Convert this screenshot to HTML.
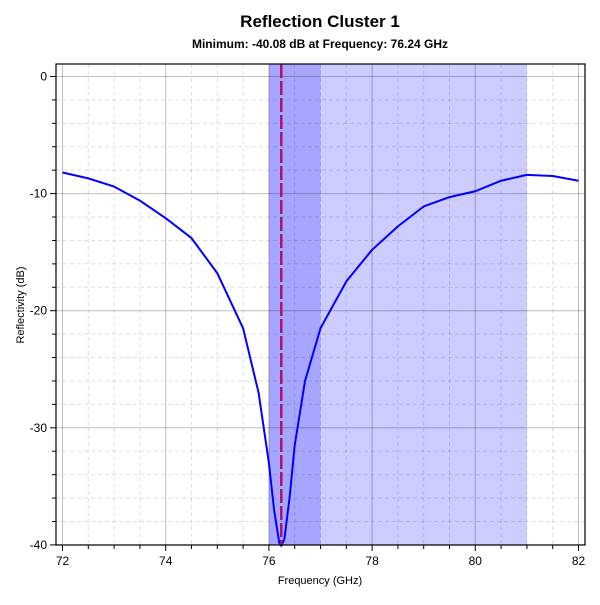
<!DOCTYPE html>
<html><head><meta charset="utf-8"><style>
body{margin:0;background:#fff;font-family:"Liberation Sans",sans-serif}
</style></head><body>
<svg id="chart" width="600" height="600" xmlns="http://www.w3.org/2000/svg">
<text x="320" y="27" text-anchor="middle" font-size="17" font-weight="bold">Reflection Cluster 1</text>
<text x="320" y="48" text-anchor="middle" font-size="12" font-weight="bold">Minimum: -40.08 dB at Frequency: 76.24 GHz</text>
<g id="bands"></g><g id="grid"></g><g id="series"></g><g id="axes"></g>
<text x="320" y="584" text-anchor="middle" font-size="11">Frequency (GHz)</text>
<text transform="translate(24,305) rotate(-90)" text-anchor="middle" font-size="11">Reflectivity (dB)</text>
</svg>
<script>
const freqs=[72,72.5,73,73.5,74,74.5,75,75.5,75.8,76,76.1,76.2,76.24,76.3,76.4,76.5,76.7,77,77.5,78,78.5,79,79.5,80,80.5,81,81.5,82];
const refl=[-8.2,-8.7,-9.4,-10.6,-12.1,-13.8,-16.8,-21.5,-27,-33,-37,-39.8,-40.08,-39.5,-36,-31.5,-26,-21.5,-17.5,-14.8,-12.8,-11.1,-10.3,-9.8,-8.9,-8.4,-8.5,-8.9];
const xTicks=[72,74,76,78,80,82];
const yTicks=[0,-10,-20,-30,-40];
const bandRanges=[[76,77],[77,81]];
const minFreq=76.24;
const NS="http://www.w3.org/2000/svg";
const L=56,R=585,T=64,B=545;
const xs=f=>62.5+(f-72)*51.6;
const ys=v=>76.5+(0-v)*11.71;
function mk(tag,at,par){const e=document.createElementNS(NS,tag);for(const k in at)e.setAttribute(k,at[k]);document.getElementById(par).appendChild(e);return e;}
const bandColors=["#a6a6ff","#ccccff"];
bandRanges.forEach((b,i)=>{const e=mk("rect",{x:xs(b[0]),y:T,width:xs(b[1])-xs(b[0]),height:B-T,fill:bandColors[i]},"bands");

});
for(let f=71.5;f<=82.6;f+=0.5){const x=xs(f);if(x<L||x>R)continue;const major=Math.abs(f-Math.round(f/2)*2)<1e-6;
mk("line",{x1:x,x2:x,y1:T,y2:B,stroke:major?"rgba(0,0,0,0.25)":"rgba(0,0,0,0.13)","stroke-dasharray":major?"":"4,3"},"grid");
mk("line",{x1:x,x2:x,y1:B,y2:B+(major?6:4),stroke:"#000"},"axes");}
for(let v=0;v>=-40;v-=2){const y=ys(v);const major=v%10===0;
mk("line",{x1:L,x2:R,y1:y,y2:y,stroke:major?"rgba(0,0,0,0.25)":"rgba(0,0,0,0.13)","stroke-dasharray":major?"":"4,3"},"grid");
mk("line",{x1:L-(major?6:4),x2:L,y1:y,y2:y,stroke:"#000"},"axes");}
const p=mk("polyline",{points:freqs.map((f,i)=>xs(f)+","+ys(refl[i])).join(" "),fill:"none",stroke:"#0000ff","stroke-width":2,"stroke-linejoin":"round"},"series");


const m=mk("line",{x1:xs(minFreq),x2:xs(minFreq),y1:T,y2:B,stroke:"#b0106e","stroke-width":2.5,"stroke-dasharray":"14,3"},"series");


const fr=mk("rect",{x:L,y:T,width:R-L,height:B-T,fill:"none",stroke:"#000","stroke-width":1.2},"axes");


xTicks.forEach(f=>{const t=mk("text",{x:xs(f),y:B+20,"text-anchor":"middle","font-size":12},"axes");t.textContent=f;

});
yTicks.forEach(v=>{const t=mk("text",{x:L-9,y:ys(v)+4,"text-anchor":"end","font-size":12},"axes");t.textContent=v;

});
</script>
</body></html>
